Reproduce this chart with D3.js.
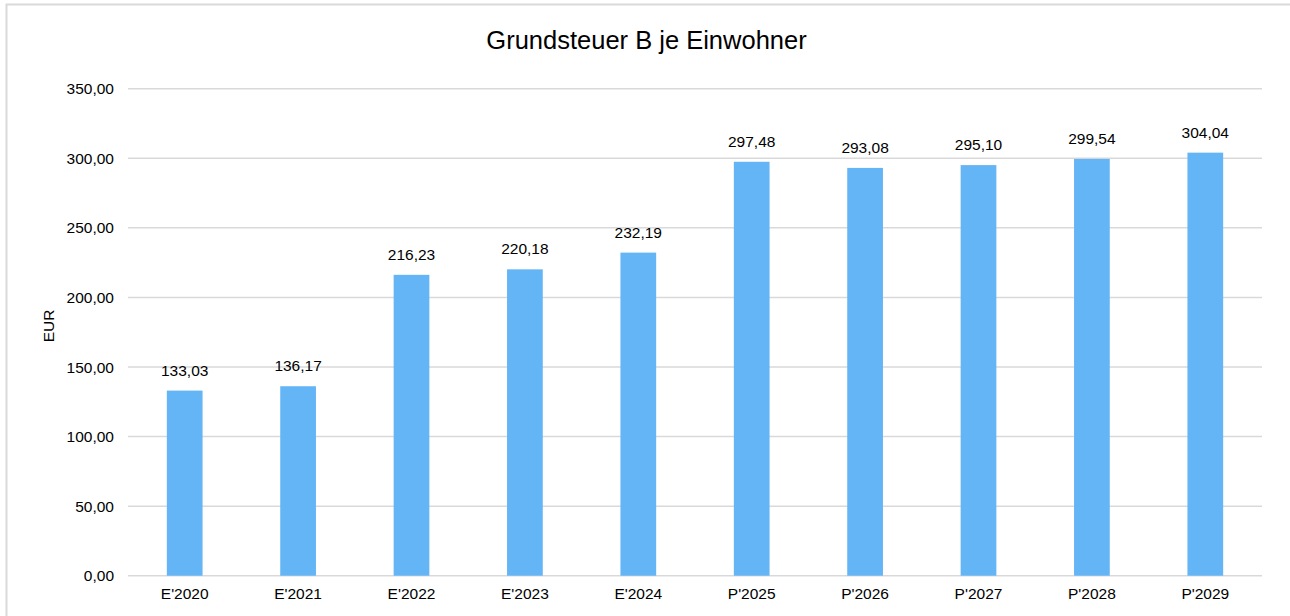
<!DOCTYPE html>
<html>
<head>
<meta charset="utf-8">
<script src="https://cdn.jsdelivr.net/npm/d3@7"></script>
<style>
  html, body { margin: 0; padding: 0; background: #fff; }
  svg { display: block; font-family: "Liberation Sans", Arial, sans-serif; }
</style>
</head>
<body>
<svg id="chart" width="1290" height="616"></svg>
<script>
// data
const categories = ["E'2020", "E'2021", "E'2022", "E'2023", "E'2024",
                    "P'2025", "P'2026", "P'2027", "P'2028", "P'2029"];
const values = [133.03, 136.17, 216.23, 220.18, 232.19,
                297.48, 293.08, 295.10, 299.54, 304.04];
const yTicks = [0, 50, 100, 150, 200, 250, 300, 350];

const title = 'Grundsteuer B je Einwohner';
const yLabel = 'EUR';

const width = 1290, height = 616;
const margin = {left: 128, right: 28, top: 88.7, bottom: 40.3};
const fontSize = 15.5;

const fmt = v => v.toFixed(2).replace('.', ',');

const svg = d3.select('#chart');

// outer frame (only left/top edges fall inside the picture)
svg.append('rect')
  .attr('x', 6.5).attr('y', 4.5)
  .attr('width', 1400).attr('height', 800)
  .attr('fill', 'none')
  .attr('stroke', '#d9d9d9')
  .attr('stroke-width', 2);

const x = d3.scaleBand()
  .domain(categories)
  .range([margin.left, width - margin.right])
  .paddingInner(0.685)
  .paddingOuter(0.3425);

const y = d3.scaleLinear()
  .domain([0, 350])
  .range([height - margin.bottom, margin.top]);

// gridlines
svg.append('g')
  .selectAll('line')
  .data(yTicks)
  .enter().append('line')
    .attr('x1', margin.left)
    .attr('x2', width - margin.right)
    .attr('y1', d => y(d))
    .attr('y2', d => y(d))
    .attr('stroke', '#d9d9d9')
    .attr('stroke-width', 1.5);

// y tick labels
svg.append('g')
  .style('font-size', fontSize + 'px')
  .attr('fill', '#000')
  .attr('text-anchor', 'end')
  .selectAll('text')
  .data(yTicks)
  .enter().append('text')
    .attr('x', 114)
    .attr('y', d => y(d))
    .attr('dy', '0.36em')
    .text(d => fmt(d));

// bars
svg.append('g')
  .selectAll('rect')
  .data(values)
  .enter().append('rect')
    .attr('x', (d, i) => x(categories[i]))
    .attr('width', x.bandwidth())
    .attr('y', d => y(d))
    .attr('height', d => y(0) - y(d))
    .attr('fill', '#64b5f6');

// value labels
svg.append('g')
  .style('font-size', fontSize + 'px')
  .attr('fill', '#000')
  .attr('text-anchor', 'middle')
  .selectAll('text')
  .data(values)
  .enter().append('text')
    .attr('x', (d, i) => x(categories[i]) + x.bandwidth() / 2)
    .attr('y', d => y(d) - 15)
    .text(d => fmt(d));

// category labels
svg.append('g')
  .style('font-size', fontSize + 'px')
  .attr('fill', '#000')
  .attr('text-anchor', 'middle')
  .selectAll('text')
  .data(categories)
  .enter().append('text')
    .attr('x', d => x(d) + x.bandwidth() / 2)
    .attr('y', 599.3)
    .text(d => d);

// axis title
svg.append('text')
  .attr('transform', 'translate(54,326) rotate(-90)')
  .attr('text-anchor', 'middle')
  .style('font-size', fontSize + 'px')
  .attr('fill', '#000')
  .text(yLabel);

// chart title
svg.append('text')
  .attr('x', 646.5)
  .attr('y', 49.3)
  .attr('text-anchor', 'middle')
  .style('font-size', '25.5px')
  .attr('fill', '#000')
  .text(title);
</script>
</body>
</html>
